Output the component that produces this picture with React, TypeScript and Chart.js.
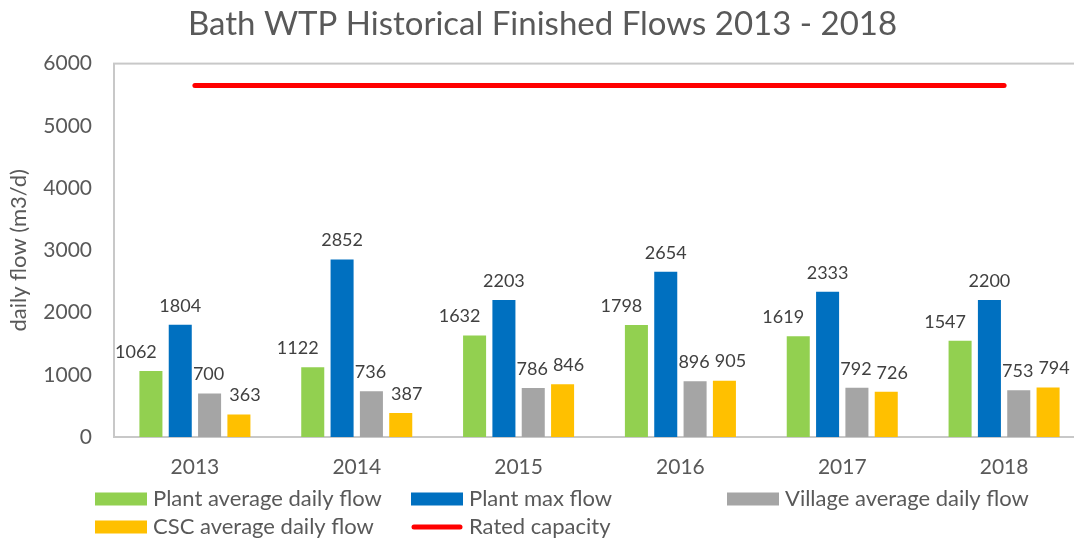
import React, { useEffect, useRef } from "react";
import { Chart, registerables } from "chart.js";

Chart.register(...registerables);

const categories = ["2013", "2014", "2015", "2016", "2017", "2018"];
const plantAvg = [1062, 1122, 1632, 1798, 1619, 1547];
const plantMax = [1804, 2852, 2203, 2654, 2333, 2200];
const villageAvg = [700, 736, 786, 896, 792, 753];
const cscAvg = [363, 387, 846, 905, 726, 794];
const ratedCapacity = [5650, 5650, 5650, 5650, 5650, 5650];
const yTicks = [0, 1000, 2000, 3000, 4000, 5000, 6000];

const FONT = "Lato, 'Open Sans', sans-serif";
const TEXT = "#595959";

const framePlugin = {
  id: "frame",
  beforeDatasetsDraw(chart: any) {
    const { ctx, chartArea: a } = chart;
    ctx.save();
    ctx.strokeStyle = "#c8c8c8";
    ctx.lineWidth = 2;
    ctx.strokeRect(a.left, a.top, a.right - a.left + 10, a.bottom - a.top);
    ctx.restore();
  },
};

const labelOffsets = [-15, 0, -1, 6];

const valueLabelPlugin = {
  id: "valueLabels",
  afterDatasetsDraw(chart: any) {
    const { ctx } = chart;
    ctx.save();
    ctx.font = `18px ${FONT}`;
    ctx.fillStyle = "#404040";
    ctx.textAlign = "center";
    ctx.textBaseline = "middle";
    chart.data.datasets.forEach((ds: any, i: number) => {
      if (ds.type === "line") return;
      const meta = chart.getDatasetMeta(i);
      meta.data.forEach((el: any, j: number) => {
        ctx.fillText(String(ds.data[j]), el.x + (labelOffsets[i] || 0), el.y - 19);
      });
    });
    ctx.restore();
  },
};

const legendCols = [95, 411, 727];
const legendRows = [499, 527];

const gridLegendPlugin = {
  id: "gridLegend",
  afterDraw(chart: any) {
    const { ctx } = chart;
    ctx.save();
    ctx.font = `22px ${FONT}`;
    ctx.textBaseline = "middle";
    ctx.textAlign = "left";
    chart.data.datasets.forEach((ds: any, i: number) => {
      const x = legendCols[i % 3];
      const y = legendRows[Math.floor(i / 3)];
      if (ds.type === "line") {
        ctx.strokeStyle = ds.borderColor;
        ctx.lineWidth = 5;
        ctx.lineCap = "round";
        ctx.beginPath();
        ctx.moveTo(x + 3, y);
        ctx.lineTo(x + 49, y);
        ctx.stroke();
      } else {
        ctx.fillStyle = ds.backgroundColor;
        ctx.fillRect(x, y - 6.5, 52, 13);
      }
      ctx.fillStyle = TEXT;
      ctx.fillText(ds.label, x + 58, y);
    });
    ctx.restore();
  },
};

export default function App() {
  const ref = useRef<HTMLCanvasElement>(null);
  useEffect(() => {
    document.body.style.margin = "0";
    document.body.style.overflow = "hidden";
    const chart = new Chart(ref.current as HTMLCanvasElement, {
      type: "bar",
      data: {
        labels: categories,
        datasets: [
          { type: "bar", label: "Plant average daily flow", data: plantAvg, backgroundColor: "#92D050", order: 2 },
          { type: "bar", label: "Plant max flow", data: plantMax, backgroundColor: "#0070C0", order: 2 },
          { type: "bar", label: "Village average daily flow", data: villageAvg, backgroundColor: "#A5A5A5", order: 2 },
          { type: "bar", label: "CSC average daily flow", data: cscAvg, backgroundColor: "#FFC000", order: 2 },
          {
            type: "line",
            label: "Rated capacity",
            data: ratedCapacity,
            borderColor: "#FF0000",
            backgroundColor: "#FF0000",
            borderWidth: 5,
            borderCapStyle: "round",
            pointRadius: 0,
            fill: false,
            order: 1,
          } as any,
        ],
      },
      options: {
        responsive: false,
        animation: false,
        datasets: { bar: { categoryPercentage: 0.725, barPercentage: 0.785 } },
        layout: { padding: { left: 0, right: 0, top: 0, bottom: 62 } },
        plugins: {
          legend: { display: false },
          tooltip: { enabled: false },
          title: {
            display: true,
            text: "Bath WTP Historical Finished Flows 2013 - 2018",
            color: TEXT,
            font: { family: FONT, size: 33, weight: "normal" },
            padding: { top: 5, bottom: 19 },
          },
        },
        scales: {
          x: {
            grid: { display: false, drawTicks: false },
            border: { display: false },
            ticks: { color: TEXT, font: { family: FONT, size: 21 }, padding: 18 },
            afterFit: (s: any) => { s.height = 40; },
          },
          y: {
            min: 0,
            max: 6000,
            grid: { display: false, drawTicks: false },
            border: { display: false },
            afterBuildTicks: (s: any) => { s.ticks = yTicks.map((v) => ({ value: v })); },
            ticks: {
              color: TEXT,
              font: { family: FONT, size: 21 },
              padding: 22,
              callback: (v: any) => String(v),
            },
            title: {
              display: true,
              text: "daily flow (m3/d)",
              color: TEXT,
              font: { family: FONT, size: 22 },
              padding: { top: 6, bottom: 0 },
            },
            afterFit: (s: any) => { s.width = 114; },
          },
        },
      },
      plugins: [framePlugin, valueLabelPlugin, gridLegendPlugin],
    });
    return () => chart.destroy();
  }, []);
  return (
    <div style={{ width: 1074, height: 539, overflow: "hidden", position: "relative", background: "#fff" }}>
      <canvas ref={ref} width={1085} height={539} style={{ display: "block" }} />
    </div>
  );
}
